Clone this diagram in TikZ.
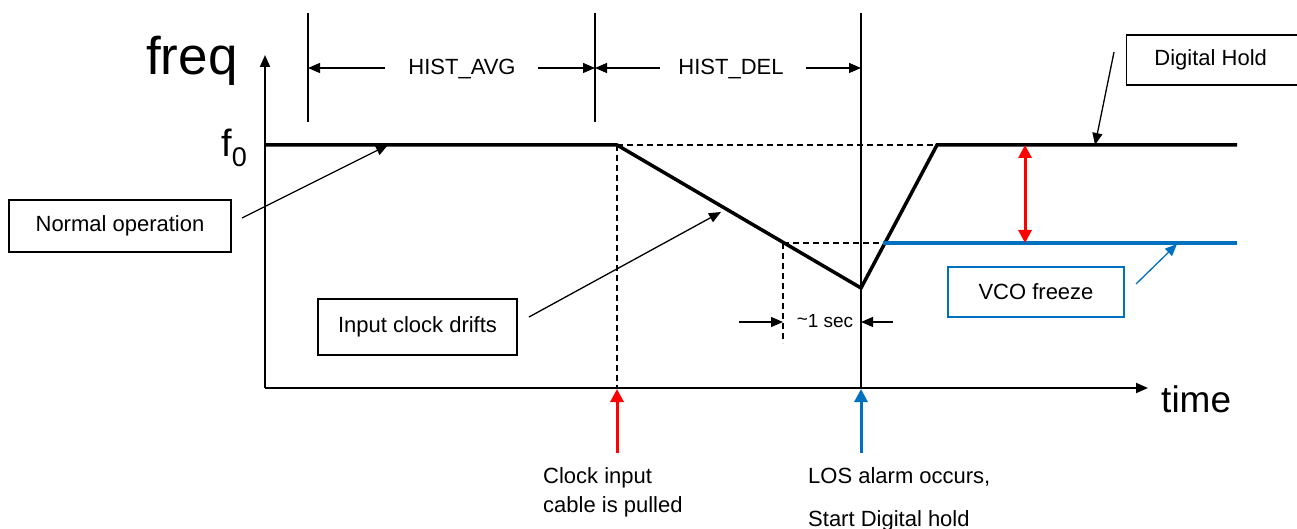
\documentclass[tikz,border=0pt]{standalone}
\usepackage{fontspec}
\setmainfont{Liberation Sans}
\usetikzlibrary{arrows.meta}
\definecolor{myblue}{RGB}{0,112,192}
\tikzset{
  tip/.style={-{Triangle[length=12pt,width=10pt]}},
  bigtip/.style={-{Triangle[length=13pt,width=13pt]}},
  dtip/.style={{Triangle[length=13pt,width=13pt]}-{Triangle[length=13pt,width=13pt]}},
  thinln/.style={line width=1.3pt},
  thickln/.style={line width=3.5pt},
  dashln/.style={line width=1.1pt, dash pattern=on 6pt off 4pt},
  lbl/.style={font=\fontsize{22}{26}\selectfont, inner sep=0pt},
  callout/.style={draw, line width=1.4pt, font=\fontsize{22}{26}\selectfont, inner sep=0pt},
}
\begin{document}
\begin{tikzpicture}[x=1pt,y=-1pt]
\useasboundingbox (0,0) rectangle (1297,529);
% key points
\coordinate (O) at (265,388);
\coordinate (Ytop) at (265,55);
\coordinate (Xend) at (1148,388);
\coordinate (F0a) at (265,145);
\coordinate (Pull) at (617,145);
\coordinate (Min) at (861,288);
\coordinate (Rise) at (937,145);
\coordinate (F0b) at (1237,145);
\coordinate (Vstart) at (883,243);
\coordinate (Vend) at (1237,243);
\coordinate (Dstart) at (783,243);
\coordinate (Dbot) at (783,343);
\coordinate (PullBot) at (617,388);
% axes
\draw[line width=2pt, tip] (O) -- (Ytop);
\draw[line width=2pt, tip] (O) -- (Xend);
\node[inner sep=0pt, anchor=base west, font=\fontsize{53}{60}\selectfont] (freq) at (146,75) {freq};
\node[inner sep=0pt, anchor=base west, font=\fontsize{37}{42}\selectfont] (time) at (1161,412) {time};
\node[inner sep=0pt, anchor=base west, font=\fontsize{38}{42}\selectfont] (f0) at (221,157) {f\raisebox{-10pt}{\fontsize{27}{30}\selectfont 0}};
% dashed guides
\draw[dashln] (Pull) -- (Rise);
\draw[dashln] (Pull) -- (PullBot);
\draw[dashln] (Dstart) -- (Vstart);
\draw[dashln] (Dstart) -- (Dbot);
% curves
\draw[thickln, line join=miter] (F0a) -- (Pull) -- (Min) -- (Rise) -- (F0b);
\draw[thickln, myblue] (Vstart) -- (Vend);
% vertical markers
\coordinate (T1) at (308,13); \coordinate (B1) at (308,122);
\coordinate (T2) at (595,13); \coordinate (B2) at (595,122);
\coordinate (T3) at (861,13); \coordinate (B3) at (861,388);
\draw[thinln] (T1) -- (B1);
\draw[thinln] (T2) -- (B2);
\draw[thinln] (T3) -- (B3);
% dimension labels
\node[lbl] (havg) at (462,69) {HIST\_AVG};
\node[lbl] (hdel) at (731,69) {HIST\_DEL};
\coordinate (a1s) at (385,68); \coordinate (a1e) at (308,68);
\coordinate (a2s) at (538,68); \coordinate (a2e) at (595,68);
\coordinate (a3s) at (660,68); \coordinate (a3e) at (595,68);
\coordinate (a4s) at (806,68); \coordinate (a4e) at (861,68);
\draw[thinln, tip] (a1s) -- (a1e);
\draw[thinln, tip] (a2s) -- (a2e);
\draw[thinln, tip] (a3s) -- (a3e);
\draw[thinln, tip] (a4s) -- (a4e);
% ~1 sec
\node[inner sep=0pt, font=\fontsize{19}{22}\selectfont] (onesec) at (825,321) {\raisebox{2pt}{\textasciitilde}1 sec};
\coordinate (s1s) at (739,322); \coordinate (s1e) at (783,322);
\coordinate (s2s) at (893,322); \coordinate (s2e) at (861,322);
\draw[thinln, tip] (s1s) -- (s1e);
\draw[thinln, tip] (s2s) -- (s2e);
% red double arrow
\coordinate (r1) at (1025,145); \coordinate (r2) at (1025,243);
\draw[line width=3pt, red, dtip] (r1) -- (r2);
% callout boxes
\node[callout, minimum width=222pt, minimum height=52pt] (normal) at (120,226) {Normal operation};
\node[callout, minimum width=199pt, minimum height=56pt] (drift) at (417.5,327) {Input clock drifts};
\node[callout, minimum width=174pt, minimum height=50pt, anchor=west] (dhold) at (1126,60) {\hspace*{-3pt}Digital Hold\hspace*{3pt}};
\node[callout, draw=myblue, minimum width=176pt, minimum height=50pt] (vco) at (1036,292) {VCO freeze};
% callout arrows
\coordinate (n1) at (242,218); \coordinate (n2) at (388,145);
\coordinate (d1) at (529,317); \coordinate (d2) at (721,212);
\coordinate (h1) at (1114,52); \coordinate (h2) at (1095,145);
\coordinate (v1) at (1136,284); \coordinate (v2) at (1177,244);
\draw[thinln, tip] (n1) -- (n2);
\draw[thinln, tip] (d1) -- (d2);
\draw[thinln, tip] (h1) -- (h2);
\draw[thinln, myblue, tip] (v1) -- (v2);
% event arrows
\coordinate (e1s) at (617,453); \coordinate (e1e) at (617,389);
\coordinate (e2s) at (861,453); \coordinate (e2e) at (861,389);
\draw[line width=3pt, red, bigtip] (e1s) -- (e1e);
\draw[line width=3pt, myblue, bigtip] (e2s) -- (e2e);
\node[lbl, anchor=base west] (clk1) at (543,483) {Clock input};
\node[lbl, anchor=base west] (clk2) at (543,512) {cable is pulled};
\node[lbl, anchor=base west] (los1) at (808,483) {LOS alarm occurs,};
\node[lbl, anchor=base west] (los2) at (808,526) {Start Digital hold};
\end{tikzpicture}
\end{document}
